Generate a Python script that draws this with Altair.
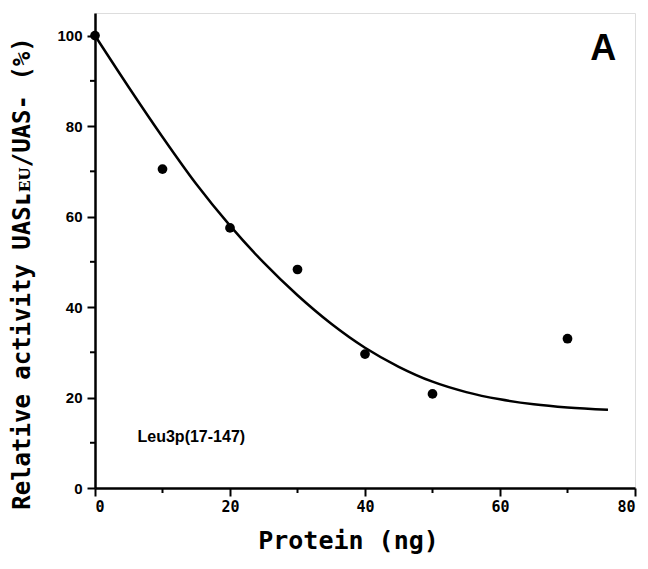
import altair as alt
import pandas as pd

# measured points
pt_x = [0, 10, 20, 30, 40, 50, 70]
pt_y = [100, 70.5, 57.5, 48.3, 29.6, 20.8, 33.0]

# fitted curve
curve_x = [0, 5, 10, 15, 20, 25, 30, 35, 40, 45, 50, 55, 60, 65, 70, 76]
curve_y = [100, 88.6, 77.6, 67.2, 58.0, 49.8, 42.6, 36.3, 31.0, 26.8, 23.5, 21.2, 19.6, 18.5, 17.8, 17.3]

x_major = [0, 20, 40, 60, 80]
x_minor = [10, 30, 50, 70]
y_major = [0, 20, 40, 60, 80, 100]
y_minor = [10, 30, 50, 70, 90]

label_text = ["Leu3p(17-147)"]
label_x = [6.3]
label_y = [11.2]
panel_text = ["A"]
panel_x = [75.3]
panel_y = [97.0]

W, H = 540, 475
xs = alt.Scale(domain=[0, 80], nice=False, zero=False)
ys = alt.Scale(domain=[0, 105], nice=False, zero=False)

pts = pd.DataFrame({"x": pt_x, "y": pt_y})
crv = pd.DataFrame({"x": curve_x, "y": curve_y})

x_axis = alt.Axis(values=x_major, title="Protein (ng)", grid=False,
                  domainColor="black", domainWidth=2.5, tickColor="black",
                  tickWidth=2, tickSize=8, labelFont="DejaVu Sans Mono",
                  labelFontWeight="bold", labelFontSize=15, labelColor="black",
                  labelPadding=3, titleFont="DejaVu Sans Mono", titleFontSize=25,
                  titleFontWeight="bold", titleColor="black",
                  titleX=253, titleY=52, titleBaseline="middle")
y_axis = alt.Axis(values=y_major, title="Relative activity UASʟᴇᴜ/UAS-  (%)", grid=False,
                  domainColor="black", domainWidth=2.5, tickColor="black",
                  tickWidth=2, tickSize=8, labelFont="Liberation Sans",
                  labelFontWeight="bold", labelFontSize=15, labelColor="black",
                  labelPadding=5, titleFont="DejaVu Sans Mono", titleFontSize=24,
                  titleFontWeight="bold", titleColor="black",
                  titleX=-73, titleY=260, titleBaseline="middle", titleAngle=-90)

line = alt.Chart(crv).mark_line(color="black", strokeWidth=2.5, interpolate="monotone").encode(
    x=alt.X("x:Q", scale=xs, axis=x_axis),
    y=alt.Y("y:Q", scale=ys, axis=y_axis),
)
points = alt.Chart(pts).mark_circle(color="black", opacity=1, size=95).encode(
    x=alt.X("x:Q", scale=xs),
    y=alt.Y("y:Q", scale=ys),
)

yminor = alt.Chart(pd.DataFrame({"y": y_minor})).mark_rule(color="black", strokeWidth=2).encode(
    y=alt.Y("y:Q", scale=ys), x=alt.value(-5), x2=alt.value(0)
)
xminor = alt.Chart(pd.DataFrame({"x": x_minor})).mark_rule(color="black", strokeWidth=2).encode(
    x=alt.X("x:Q", scale=xs), y=alt.value(H), y2=alt.value(H + 5)
)

lab = alt.Chart(pd.DataFrame({"x": label_x, "y": label_y, "t": label_text})).mark_text(
    align="left", baseline="middle", font="Liberation Sans", fontSize=16,
    fontWeight="bold", color="black"
).encode(x=alt.X("x:Q", scale=xs), y=alt.Y("y:Q", scale=ys), text="t:N")

panel = alt.Chart(pd.DataFrame({"x": panel_x, "y": panel_y, "t": panel_text})).mark_text(
    align="center", baseline="middle", font="Liberation Sans", fontSize=36,
    fontWeight="bold", color="black"
).encode(x=alt.X("x:Q", scale=xs), y=alt.Y("y:Q", scale=ys), text="t:N")

chart = alt.layer(line, points, yminor, xminor, lab, panel).properties(
    width=W, height=H,
    autosize=alt.AutoSizeParams(type="none"),
    padding={"left": 87, "top": 5, "right": 5, "bottom": 70},
).configure_view(stroke="black", strokeWidth=2).configure(background="white")

chart.save("out.html", embed_options={"renderer": "svg", "actions": False})
